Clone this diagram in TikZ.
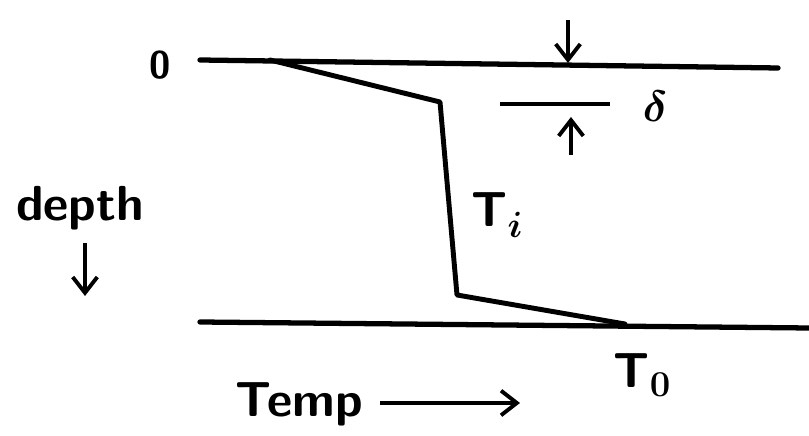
\documentclass[tikz,border=0pt]{standalone}
\usepackage{amsmath}
\usepackage{amssymb}
\usepackage{bm}
\usepackage{tikz}
\usetikzlibrary{positioning, arrows.meta}

\begin{document}
\begin{tikzpicture}[
    level/.style={line width=3pt, line cap=round},
    profile/.style={line width=2.8pt, line join=round, line cap=round},
    pointer/.style={line width=2.2pt, -{Straight Barb[length=9pt, width=14pt, line width=2.2pt]}},
    mark line/.style={line width=2pt},
    lbl/.style={font=\sffamily\bfseries\fontsize{28}{30}\selectfont, inner sep=1pt}
]
  \useasboundingbox (0,0) rectangle (16.18,8.72);
  % surface and bottom levels
  \coordinate (topL) at (4.0,7.52);
  \coordinate (topR) at (15.56,7.36);
  \coordinate (botL) at (4.0,2.28);
  \coordinate (botR) at (16.18,2.16);
  \draw[level] (topL) -- (topR);
  \draw[level] (botL) -- (botR);
  % temperature profile
  \coordinate (p1) at (5.4,7.52);
  \coordinate (p2) at (8.8,6.68);
  \coordinate (p3) at (9.14,2.82);
  \coordinate (p4) at (12.5,2.24);
  \draw[profile] (p1) -- (p2) -- (p3) -- (p4);
  % boundary layer thickness
  \coordinate (dTop) at (11.36,8.32);
  \coordinate (dSurf) at (11.36,7.46);
  \coordinate (mL) at (10.0,6.64);
  \coordinate (mR) at (12.2,6.64);
  \coordinate (uBot) at (11.42,5.62);
  \coordinate (uTop) at (11.42,6.38);
  \draw[pointer] (dTop) -- (dSurf);
  \draw[mark line] (mL) -- (mR);
  \draw[pointer] (uBot) -- (uTop);
  \node[lbl] (delta) at (13.1,6.6) {$\bm{\delta}$};
  % labels
  \node[lbl, font=\sffamily\bfseries\fontsize{22}{24}\selectfont] (zero) at (3.2,7.42) {0};
  \node[lbl] (Ti) at (9.95,4.42) {T$_{\bm{i}}$};
  \node[lbl] (To) at (12.85,1.22) {T$_{\mathbf{0}}$};
  \node[lbl] (depth) at (1.6,4.55) {depth};
  \coordinate (dA) at (1.7,3.85);
  \coordinate (dB) at (1.7,2.8);
  \draw[pointer] (dA) -- (dB);
  \node[lbl, anchor=east] (temp) at (7.3,0.64) {Temp};
  \coordinate (tA) at (7.6,0.66);
  \coordinate (tB) at (10.4,0.66);
  \draw[pointer] (tA) -- (tB);
\end{tikzpicture}
\end{document}
